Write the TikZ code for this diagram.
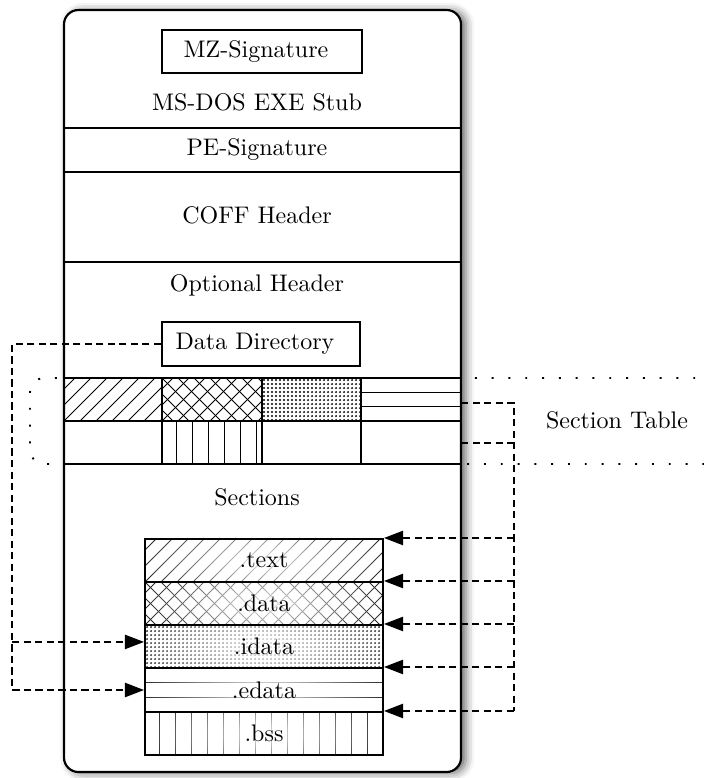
\documentclass[tikz,border=0pt]{standalone}
\usetikzlibrary{arrows.meta,fit,fadings,shadows.blur}
\tikzfading[name=myglow, inner color=transparent!0, outer color=transparent!100]
\tikzset{
  patline/.style={line width=0.4pt},
  thickline/.style={line width=0.85pt},
  secbox/.style={draw, line width=0.85pt, inner sep=0pt},
  conn/.style={line width=0.6pt, dash pattern=on 3pt off 1.8pt},
  arr/.style={conn, -{Triangle[length=8pt,width=6pt]}},
}
% pattern helpers: x1 y1 x2 y2 (y grows downwards)
\newcommand\patNE[4]{\begin{scope}\clip (#1,#2) rectangle (#3,#4);
  \foreach \k in {-48,-32,...,256} \draw[patline] ({#1+\k},#4) -- ++(160,-160);
\end{scope}}
\newcommand\patX[4]{\begin{scope}\clip (#1,#2) rectangle (#3,#4);
  \foreach \k in {-48,-32,...,256} {\draw[patline] ({#1+\k},#4) -- ++(160,-160);
    \draw[patline] ({#1+\k},#2) -- ++(160,160);}
\end{scope}}
\newcommand\patDots[4]{\begin{scope}\clip (#1,#2) rectangle (#3,#4);
  \foreach \i in {0,...,60} \foreach \j in {0,...,11}
    \fill ({#1+2+\i*4},{#2+2+\j*4}) circle (0.42pt);
\end{scope}}
\newcommand\patV[4]{\begin{scope}\clip (#1,#2) rectangle (#3,#4);
  \foreach \k in {14,30,...,254} \draw[patline] ({#1+\k},#2) -- ({#1+\k},#4);
\end{scope}}
\newcommand\patH[4]{\begin{scope}
  \draw[patline] (#1,{#2+(#4-#2)/3}) -- (#3,{#2+(#4-#2)/3});
  \draw[patline] (#1,{#2+2*(#4-#2)/3}) -- (#3,{#2+2*(#4-#2)/3});
\end{scope}}
\newcommand\glow[4]{\begin{scope}\clip (#1,#2) rectangle (#3,#4);
  \fill[white, fill opacity=0.9, path fading=myglow] ({(#1+#3)/2},{(#2+#4)/2}) ellipse [x radius=150, y radius=55];
\end{scope}}
\begin{document}
\begin{tikzpicture}[x=0.41667pt,y=-0.41667pt]
\useasboundingbox (0,0) rectangle (704,778);

% Section table region (dotted, behind main box)
\node[fit={(30,378)(760,464)}, inner sep=0pt, draw, line width=0.8pt,
      dash pattern=on 0.8pt off 6.2pt, rounded corners=6pt] (sectab) {};
\node (sectabl) at (617,420) {Section Table};

% main PE box
\node[fit={(64,10)(461,772)}, inner sep=0pt, draw, fill=white, line width=0.9pt,
      rounded corners=6pt,
      blur shadow={shadow xshift=2pt, shadow yshift=-0.5pt, shadow blur radius=3.5pt, shadow opacity=60}] (pe) {};

% separators
\draw[thickline] (64,128) -- (461,128);
\draw[thickline] (64,172) -- (461,172);
\draw[thickline] (64,262) -- (461,262);

% header contents
\node[secbox, fit={(162,30)(362,73)}] (mz) {};
\node (mzl) at (256,51.5) {MZ-Signature};
\node (dos) at (257,102) {MS-DOS EXE Stub};
\node (pesig) at (257,150) {PE-Signature};
\node (coff) at (257,215) {COFF Header};
\node (opt) at (257,285) {Optional Header};
\node[secbox, fit={(162,322)(360,366)}] (dd) {};
\node (ddl) at (255,344) {Data Directory};

% section table cells
\patNE{64}{378}{162}{421}
\patX{162}{378}{262}{421}
\patDots{262}{378}{361}{421}
\patH{361}{378}{461}{421}
\patV{162}{421}{262}{464}
\draw[thickline] (64,378) -- (461,378);
\draw[thickline] (64,421) -- (461,421);
\draw[thickline] (64,464) -- (461,464);
\draw[thickline] (162,378) -- (162,464);
\draw[thickline] (262,378) -- (262,464);
\draw[thickline] (361,378) -- (361,464);

\node (secl) at (257,497) {Sections};

% sections
\patNE{145}{539}{383}{582}   \glow{145}{539}{383}{582}
\patX{145}{582}{383}{625}    \glow{145}{582}{383}{625}
\patDots{145}{625}{383}{668} \glow{145}{625}{383}{668}
\patH{145}{668}{383}{712}    \glow{145}{668}{383}{712}
\patV{145}{712}{383}{755}    \glow{145}{712}{383}{755}
\node[secbox, fit={(145,539)(383,582)}] (text) {};
\node[secbox, fit={(145,582)(383,625)}] (data) {};
\node[secbox, fit={(145,625)(383,668)}] (idata) {};
\node[secbox, fit={(145,668)(383,712)}] (edata) {};
\node[secbox, fit={(145,712)(383,755)}] (bss) {};
\node (textl) at (text.center) {.text};
\node (datal) at (data.center) {.data};
\node (idatal) at (idata.center) {.idata};
\node (edatal) at (edata.center) {.edata};
\node (bssl) at (bss.center) {.bss};

% left connectors (data directory)
\coordinate (lv) at (12,0);
\coordinate (idin) at ([yshift=1.9pt]idata.west);
\draw[arr] (dd.west) -| (lv |- edata.west) -- (edata.west);
\draw[arr] (lv |- idin) -- (idin);

% right connectors (section table)
\coordinate (rv) at (514,0);
\coordinate (sta) at (461,403);
\coordinate (stb) at (461,443);
\draw[conn] (sta) -| (rv |- bss.north east);
\draw[conn] (stb) -- (stb -| rv);
\draw[arr] (rv |- text.north east) -- (text.north east);
\draw[arr] (rv |- data.north east) -- (data.north east);
\draw[arr] (rv |- idata.north east) -- (idata.north east);
\draw[arr] (rv |- edata.north east) -- (edata.north east);
\draw[arr] (rv |- bss.north east) -- (bss.north east);
\end{tikzpicture}
\end{document}
